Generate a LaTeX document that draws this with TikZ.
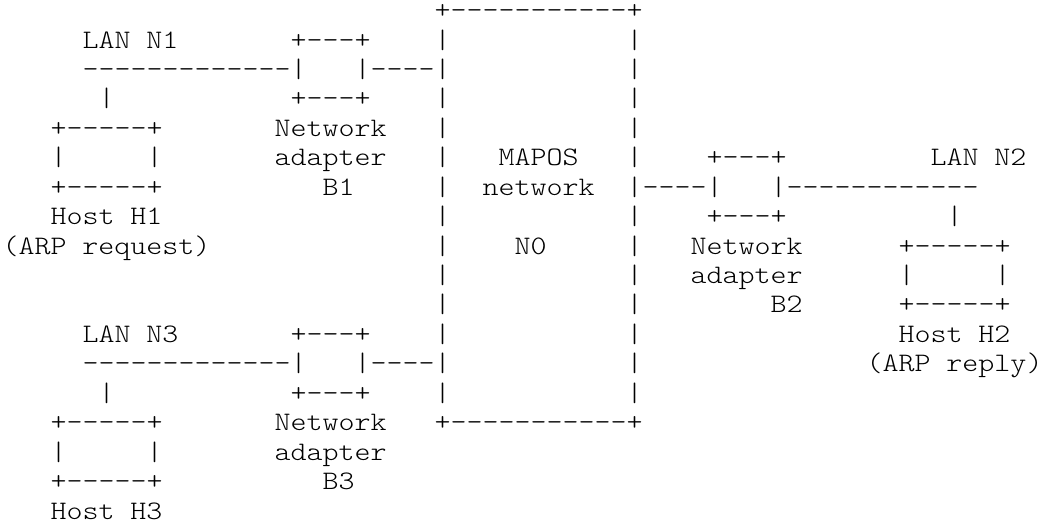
\documentclass[tikz,border=0pt]{standalone}
\usepackage{fontspec}
\setmonofont[FakeStretch=1.143]{lmmonolt10-regular.otf}
\tikzset{
  ascii/.style={anchor=base west, inner sep=0pt, outer sep=0pt,
    font=\fontsize{20}{22}\selectfont\ttfamily, text=black},
}
% #1 name, #2 column, #3 row, #4 text
\newcommand\Ach[4]{\node[ascii] (#1) at ({2.5+16*#2},{521-(18.6+29.44*#3)}) {#4};}
\begin{document}
\begin{tikzpicture}[x=0.75pt,y=0.75pt]
\useasboundingbox (0,0) rectangle (1042,521);
% MAPOS network box
\Ach{mtop}{27}{0}{+-----------+}
\Ach{mbot}{27}{14}{+-----------+}
\foreach \r in {1,...,13}{
  \Ach{ml\r}{27}{\r}{|}
  \Ach{mr\r}{39}{\r}{|}
}
\Ach{mapos}{31}{5}{MAPOS}
\Ach{mnet}{30}{6}{network}
\Ach{mn0}{32}{8}{N0}
% LAN N1 / adapter B1 / host H1
\Ach{lan1}{5}{1}{LAN N1}
\Ach{b1top}{18}{1}{+---+}
\Ach{lan1line}{5}{2}{-------------|}
\Ach{b1link}{22}{2}{|----}
\Ach{b1bot}{18}{3}{+---+}
\Ach{h1drop}{6}{3}{|}
\Ach{h1top}{3}{4}{+-----+}
\Ach{h1l}{3}{5}{|}
\Ach{h1r}{9}{5}{|}
\Ach{h1bot}{3}{6}{+-----+}
\Ach{h1name}{3}{7}{Host H1}
\Ach{h1role}{0}{8}{(ARP request)}
\Ach{b1a}{17}{4}{Network}
\Ach{b1b}{17}{5}{adapter}
\Ach{b1c}{20}{6}{B1}
% adapter B2 / LAN N2 / host H2
\Ach{b2link}{40}{6}{----|}
\Ach{b2top}{44}{5}{+---+}
\Ach{lan2line}{48}{6}{|------------}
\Ach{b2bot}{44}{7}{+---+}
\Ach{lan2}{58}{5}{LAN N2}
\Ach{h2drop}{59}{7}{|}
\Ach{h2top}{56}{8}{+-----+}
\Ach{h2l}{56}{9}{|}
\Ach{h2r}{62}{9}{|}
\Ach{h2bot}{56}{10}{+-----+}
\Ach{h2name}{56}{11}{Host H2}
\Ach{h2role}{54}{12}{(ARP reply)}
\Ach{b2a}{43}{8}{Network}
\Ach{b2b}{43}{9}{adapter}
\Ach{b2c}{48}{10}{B2}
% LAN N3 / adapter B3 / host H3
\Ach{lan3}{5}{11}{LAN N3}
\Ach{b3top}{18}{11}{+---+}
\Ach{lan3line}{5}{12}{-------------|}
\Ach{b3link}{22}{12}{|----}
\Ach{b3bot}{18}{13}{+---+}
\Ach{h3drop}{6}{13}{|}
\Ach{h3top}{3}{14}{+-----+}
\Ach{h3l}{3}{15}{|}
\Ach{h3r}{9}{15}{|}
\Ach{h3bot}{3}{16}{+-----+}
\Ach{h3name}{3}{17}{Host H3}
\Ach{b3a}{17}{14}{Network}
\Ach{b3b}{17}{15}{adapter}
\Ach{b3c}{20}{16}{B3}
\end{tikzpicture}
\end{document}
